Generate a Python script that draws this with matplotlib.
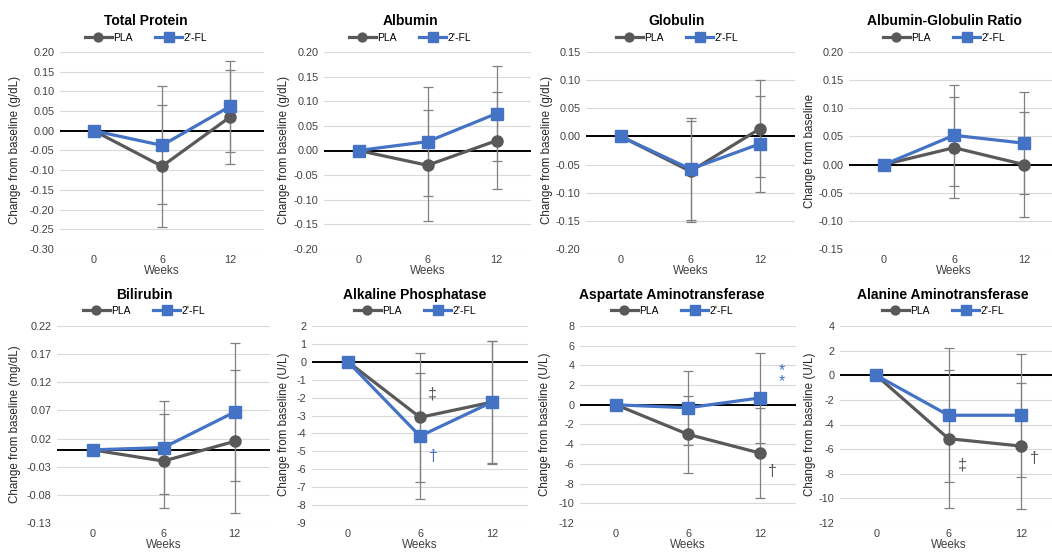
import numpy as np
import matplotlib
matplotlib.use("Agg")
from matplotlib import pyplot as plt

plt.rcParams['font.family'] = ['Liberation Sans', 'DejaVu Sans']

weeks = ["0", "6", "12"]
titles = ["Total Protein", "Albumin", "Globulin", "Albumin-Globulin Ratio",
          "Bilirubin", "Alkaline Phosphatase", "Aspartate Aminotransferase",
          "Alanine Aminotransferase"]
ylabels = ["Change from baseline (g/dL)", "Change from baseline (g/dL)",
           "Change from baseline (g/dL)", "Change from baseline",
           "Change from baseline (mg/dL)", "Change from baseline (U/L)",
           "Change from baseline (U/L)", "Change from baseline (U/L)"]

# means and SDs (weeks 0, 6, 12)
pla_mean = [[0, -0.090, 0.035], [0, -0.030, 0.020], [0, -0.062, 0.014],
            [0, 0.030, 0.000], [0, -0.020, 0.015], [0, -3.10, -2.25],
            [0, -3.00, -4.90], [0, -5.15, -5.75]]
pla_sd = [[0, 0.155, 0.120], [0, 0.113, 0.098], [0, 0.090, 0.086],
          [0, 0.090, 0.094], [0, 0.083, 0.127], [0, 3.60, 3.43],
          [0, 3.90, 4.60], [0, 5.60, 5.10]]
fl_mean = [[0, -0.037, 0.062], [0, 0.018, 0.075], [0, -0.058, -0.013],
           [0, 0.052, 0.038], [0, 0.004, 0.067], [0, -4.15, -2.25],
           [0, -0.30, 0.70], [0, -3.25, -3.25]]
fl_sd = [[0, 0.150, 0.115], [0, 0.110, 0.096], [0, 0.090, 0.085],
         [0, 0.090, 0.091], [0, 0.083, 0.123], [0, 3.50, 3.40],
         [0, 3.75, 4.60], [0, 5.45, 5.00]]

# significance marks: (panel, x position, y, text, series colour)
marks = [(5, 1.17, -1.8, "‡", "gray"), (5, 1.18, -5.3, "†", "blue"),
         (6, 2.30, 2.9, "*\n*", "blue"), (6, 2.17, -6.8, "†", "gray"),
         (7, 1.19, -7.3, "‡", "gray"), (7, 2.19, -6.8, "†", "gray")]

# axis ranges/ticks
yticks = [np.arange(-0.30, 0.201, 0.05), np.arange(-0.20, 0.201, 0.05),
          np.arange(-0.20, 0.151, 0.05), np.arange(-0.15, 0.201, 0.05),
          np.arange(-0.13, 0.221, 0.05), np.arange(-9, 2.1, 1),
          np.arange(-12, 8.1, 2), np.arange(-12, 4.1, 2)]
fmts = ["%.2f"] * 5 + ["%d"] * 3

W, H = 1052, 552
# pixel boxes: left, right, top, bottom, title centre x, ylabel right edge x
boxes = [(60, 264, 52, 249, 146, 21), (324, 531, 52, 249, 410, 290),
         (586, 795, 52, 249, 677, 553), (849, 1059, 52, 249, 944, 816),
         (57, 270, 326, 523, 144, 21), (312, 528, 326, 523, 415, 290),
         (580, 796, 326, 523, 672, 551), (840, 1057, 326, 523, 943, 816)]

GRAY = "#595959"
BLUE = "#4472C4"
ERR = "#808080"

fig = plt.figure(figsize=(W / 100, H / 100), dpi=100)

for i in range(8):
    l, r, t, b, tc, yl = boxes[i]
    ax = fig.add_axes([l / W, 1 - b / H, (r - l) / W, (b - t) / H])
    x = np.arange(len(weeks))

    ax.errorbar(x, pla_mean[i], yerr=pla_sd[i], fmt='none', ecolor=ERR,
                elinewidth=0.9, capsize=3.5, capthick=0.9, zorder=2)
    ax.errorbar(x, fl_mean[i], yerr=fl_sd[i], fmt='none', ecolor=ERR,
                elinewidth=0.9, capsize=3.5, capthick=0.9, zorder=2)
    h1, = ax.plot(x, pla_mean[i], color=GRAY, lw=2.3, marker='o', ms=8,
                  label="PLA", zorder=3)
    h2, = ax.plot(x, fl_mean[i], color=BLUE, lw=2.3, marker='s', ms=8.5,
                  label="2'-FL", zorder=4)

    ax.axhline(0, color='black', lw=1.4, zorder=1)
    ax.set_xlim(-0.5, 2.5)
    ax.set_ylim(yticks[i][0], yticks[i][-1])
    ax.set_yticks(yticks[i])
    ax.set_yticklabels([fmts[i] % (round(v, 2) + 0.0) for v in yticks[i]])
    ax.set_xticks(x)
    ax.set_xticklabels(weeks)
    ax.tick_params(length=0, labelsize=7.8, colors='#404040', pad=4)
    ax.grid(axis='y', color='#d9d9d9', lw=0.8, zorder=0)
    ax.set_axisbelow(True)
    for s in ax.spines.values():
        s.set_visible(False)

    ax.set_ylabel(ylabels[i], fontsize=8.4, color='#262626')
    ax.yaxis.set_label_coords((yl - l) / (r - l), 0.5)
    ax.set_xlabel("Weeks", fontsize=8.5, color='#404040', labelpad=0)

    ty = 21 if i < 4 else 295
    ly = 38 if i < 4 else 311
    fig.text(tc / W, 1 - ty / H, titles[i], ha='center', va='center',
             fontsize=10, fontweight='bold')
    ax.legend(handles=[h1, h2], loc='center', ncol=2, frameon=False,
              bbox_to_anchor=(tc / W, 1 - ly / H), bbox_transform=fig.transFigure,
              fontsize=7.5, handlelength=2.6, columnspacing=2.2,
              handletextpad=0.1, markerscale=0.8)

for p, xm, ym, txt, c in marks:
    ax = fig.axes[p]
    ax.text(xm, ym, txt, ha='center', va='center',
            color=GRAY if c == "gray" else BLUE, fontsize=11.5,
            linespacing=0.6)

fig.savefig("out.png", dpi=100)
